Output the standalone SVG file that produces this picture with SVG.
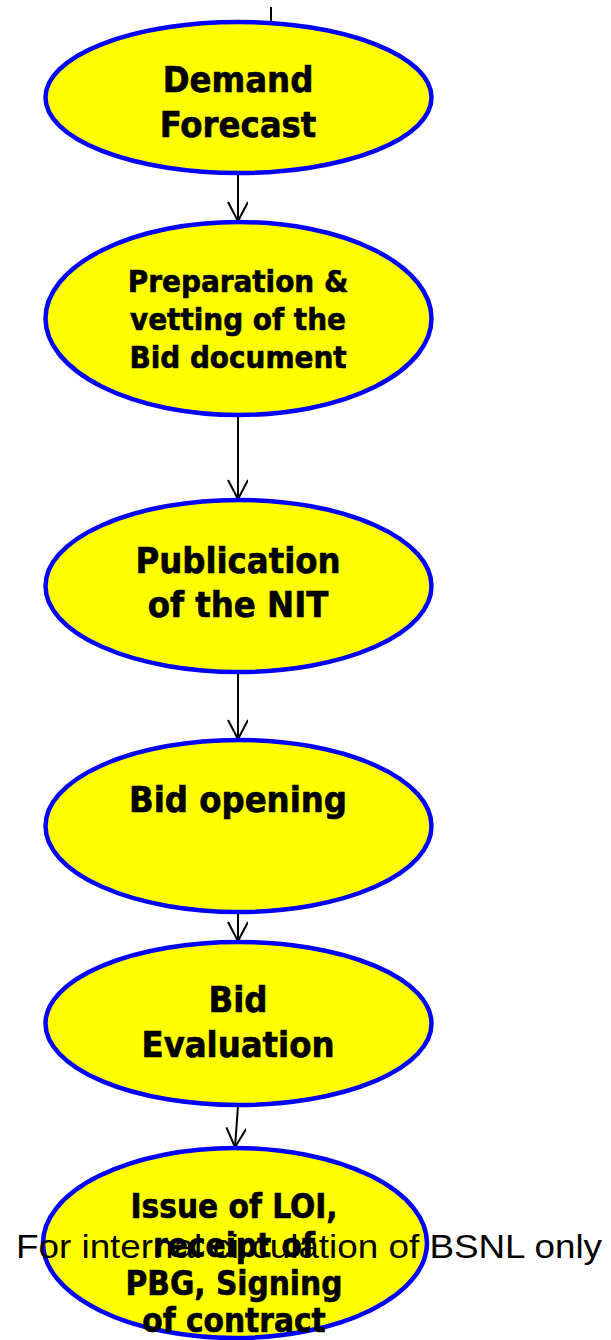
<svg xmlns="http://www.w3.org/2000/svg" width="611" height="1340" viewBox="0 0 611 1340">
<defs>
<style>
.node ellipse{fill:#FFFF00;stroke:#0000FF;stroke-width:4.5}
.node text{font-family:"DejaVu Sans Condensed","DejaVu Sans",sans-serif;font-stretch:condensed;font-weight:bold;fill:#000;text-anchor:middle;stroke:#000;stroke-width:0.6}
.big{font-size:36px}
.small{font-size:31px}
.loi{font-size:33px}
.conn line,.conn path{stroke:#000;stroke-width:2;fill:none}
.footer{font-family:"Liberation Sans",Arial,sans-serif;font-size:34px;fill:#000}
</style>
<marker id="arr" markerWidth="24" markerHeight="24" refX="20" refY="10" orient="auto" markerUnits="userSpaceOnUse" viewBox="0 0 24 24">
<path d="M1,0 L20,10 L1,20" fill="none" stroke="#000" stroke-width="2"/>
</marker>
</defs>
<rect width="611" height="1340" fill="#fff"/>
<g class="conn" id="connectors">
<line x1="271" y1="7" x2="271" y2="22"/>
<line x1="238" y1="174" x2="238" y2="221" marker-end="url(#arr)"/>
<line x1="238" y1="416" x2="238" y2="499" marker-end="url(#arr)"/>
<line x1="238" y1="673" x2="238" y2="739" marker-end="url(#arr)"/>
<line x1="238" y1="913" x2="238" y2="941" marker-end="url(#arr)"/>
<line x1="238" y1="1106" x2="235" y2="1147" marker-end="url(#arr)"/>
</g>
<g class="node" id="demand">
<ellipse cx="238.5" cy="97.5" rx="193" ry="75.5"/>
<text class="big" x="238" y="92">Demand</text>
<text class="big" x="238" y="137">Forecast</text>
</g>
<g class="node" id="preparation">
<ellipse cx="238.5" cy="318.5" rx="193" ry="96.5"/>
<text class="small" x="238" y="292">Preparation &amp;</text>
<text class="small" x="238" y="330">vetting of the</text>
<text class="small" x="238" y="368">Bid document</text>
</g>
<g class="node" id="publication">
<ellipse cx="238.5" cy="586" rx="193" ry="86"/>
<text class="big" x="238" y="573">Publication</text>
<text class="big" x="238" y="617">of the NIT</text>
</g>
<g class="node" id="opening">
<ellipse cx="238.5" cy="826" rx="193" ry="86"/>
<text class="big" x="238" y="812">Bid opening</text>
</g>
<g class="node" id="evaluation">
<ellipse cx="238.5" cy="1023.5" rx="193" ry="81.5"/>
<text class="big" x="238" y="1012">Bid</text>
<text class="big" x="238" y="1057">Evaluation</text>
</g>
<g class="node" id="loi">
<ellipse cx="235" cy="1243" rx="192" ry="95"/>
<text class="loi" x="234" y="1218">Issue of LOI,</text>
<text class="loi" x="234" y="1257">receipt of</text>
<text class="loi" x="234" y="1295">PBG, Signing</text>
<text class="loi" x="234" y="1332">of contract</text>
</g>
<text class="footer" x="16" y="1258" textLength="586" lengthAdjust="spacingAndGlyphs">For internal circulation of BSNL only</text>
</svg>
